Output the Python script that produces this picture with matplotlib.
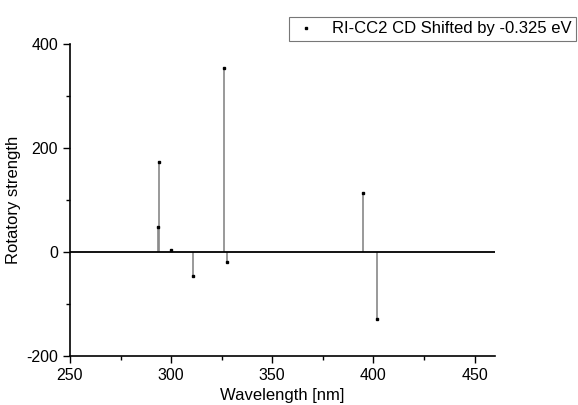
"""Stick plot of RI-CC2 rotatory strengths (CD spectrum) shifted by -0.325 eV."""
import matplotlib
matplotlib.use("Agg")
from matplotlib import pyplot as plt
from matplotlib.ticker import MultipleLocator

# transition wavelengths [nm] and rotatory strengths
wavelengths = [293.3, 293.8, 299.9, 311.0, 326.2, 327.4, 394.8, 402.0]
strengths = [48, 173, 3, -47, 354, -19, 113, -128]

plt.rcParams['font.family'] = ['Liberation Sans', 'DejaVu Sans']
plt.rcParams['axes.unicode_minus'] = False

fig = plt.figure(figsize=(5.78, 4.05), dpi=100)
ax = fig.add_axes([0.121, 0.121, 0.735, 0.770])

# sticks from zero to each value
ax.vlines(wavelengths, 0, strengths, color='#888888', linewidth=1.2, zorder=2)
ax.axhline(0, color='black', linewidth=1.3, zorder=3)
ax.plot(wavelengths, strengths, linestyle='none', marker='s', markersize=2,
        color='black', label='RI-CC2 CD Shifted by -0.325 eV', zorder=4)

ax.set_xlim(250, 460)
ax.set_ylim(-200, 400)
ax.xaxis.set_major_locator(MultipleLocator(50))
ax.xaxis.set_minor_locator(MultipleLocator(25))
ax.yaxis.set_major_locator(MultipleLocator(200))
ax.yaxis.set_minor_locator(MultipleLocator(100))
ax.tick_params(which='major', direction='out', length=5, width=1, labelsize=11.5)
ax.tick_params(which='minor', direction='out', length=3, width=1)

for side in ['top', 'right']:
    ax.spines[side].set_visible(False)
for side in ['left', 'bottom']:
    ax.spines[side].set_linewidth(1.2)

ax.set_xlabel("Wavelength [nm]", fontsize=12, labelpad=4)
ax.set_ylabel("Rotatory strength", fontsize=12, labelpad=4)

leg = fig.legend(loc='upper left', bbox_to_anchor=(0.486, 0.978), fontsize=12,
                 frameon=True, fancybox=False, edgecolor='#555555',
                 handlelength=1.5, borderpad=0.25, markerscale=1)
leg.get_frame().set_linewidth(0.8)

fig.savefig("out.png", dpi=100)
